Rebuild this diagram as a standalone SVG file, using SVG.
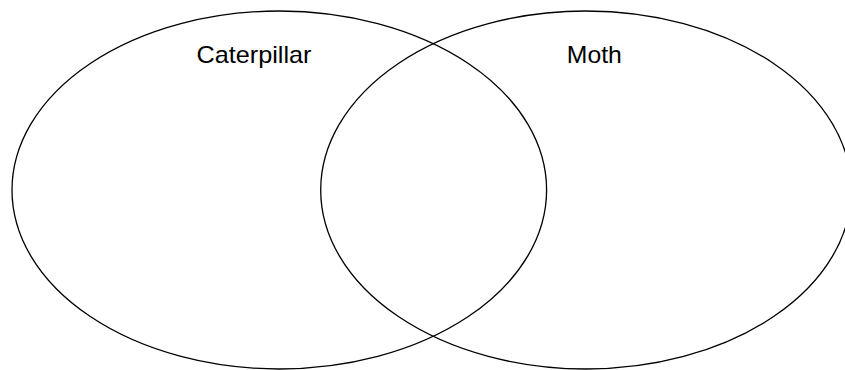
<svg xmlns="http://www.w3.org/2000/svg" width="845" height="370" viewBox="0 0 845 370">
<style>
.set{fill:none;stroke:#000;stroke-width:1.3}
.lbl{font-family:"Liberation Sans",Arial,sans-serif;font-size:24px;fill:#000;text-anchor:middle}
</style>
<rect width="845" height="370" fill="#fff"/>
<g id="caterpillar">
<ellipse class="set" cx="279.3" cy="190" rx="267.3" ry="179"/>
<text class="lbl" x="254" y="63.3" textLength="115" lengthAdjust="spacingAndGlyphs">Caterpillar</text>
</g>
<g id="moth">
<ellipse class="set" cx="586" cy="190" rx="265.3" ry="179"/>
<text class="lbl" x="594.3" y="63.3" textLength="55" lengthAdjust="spacingAndGlyphs">Moth</text>
</g>
<g id="connectors"/>
</svg>
